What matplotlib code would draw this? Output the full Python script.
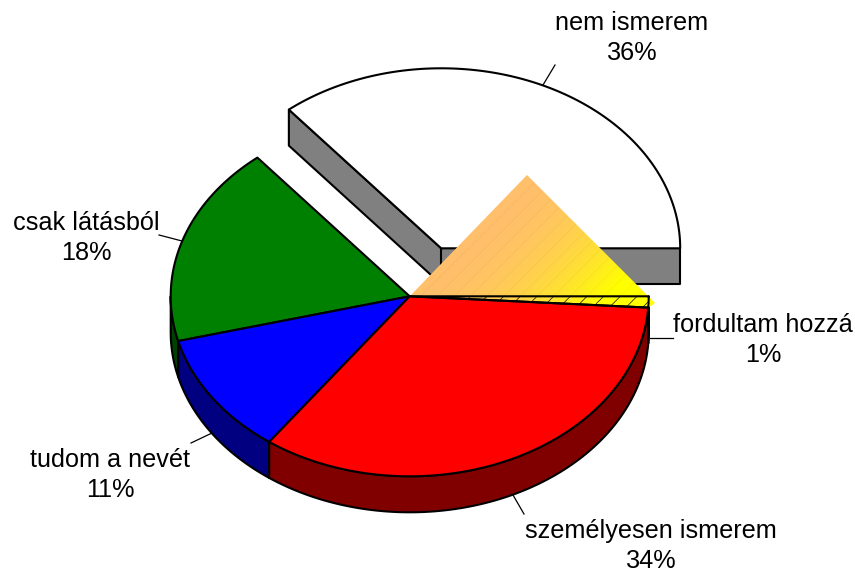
import numpy as np
import matplotlib
matplotlib.use("Agg")
import matplotlib.pyplot as plt
from matplotlib.patches import Polygon

plt.rcParams['font.family'] = ['Liberation Sans', 'DejaVu Sans']
plt.rcParams['hatch.linewidth'] = 0.45

#Data, counter clockwise starting from the exploded slice
labels = ["nem ismerem", "csak látásból", "tudom a nevét", "személyesen ismerem", "fordultam hozzá"]
values = [36, 18, 11, 34, 1]
tops = ["#FFFFFF", "#008000", "#0000FF", "#FF0000", "#FFFF00"]
sides = ["#808080", "#004000", "#000080", "#800000", "#808000"]

#Pie geometry in pixels
cx, cy = 409.7, 296.3
rx, ry = 239, 180
depth = 36
explode = (31.5, -48)

#Label text centre and leader line
label_pos = [(632, 38), (86, 238), (110, 475), (651, 546), (763, 340)]
leaders = [((543, 85), (555, 65)), ((159, 235), (182, 241)), ((191, 443), (212, 433)),
           ((513, 495), (524, 514)), ((650, 338), (673, 338))]

def rim(a0, a1, x0=cx, y0=cy, dz=0):
    t = np.radians(np.linspace(a0, a1, 120))
    return np.column_stack([x0 + rx * np.cos(t), y0 - ry * np.sin(t) + dz])

fig = plt.figure(figsize=(8.55, 5.72), dpi=100)
ax = fig.add_axes([0, 0, 1, 1])

edges = np.cumsum([0] + values) * 3.6
line = dict(edgecolor="black", linewidth=1.5, joinstyle="round")

#Exploded slice: two cut faces, then the top
x0, y0 = cx + explode[0], cy + explode[1]
a0, a1 = edges[0], edges[1]
for a in (a1, a0):
    p = rim(a, a, x0, y0)[0]
    face = [(x0, y0), p, (p[0], p[1] + depth), (x0, y0 + depth)]
    ax.add_patch(Polygon(face, facecolor=sides[0], zorder=2, **line))
ax.add_patch(Polygon(np.vstack([[(x0, y0)], rim(a0, a1, x0, y0)]), facecolor=tops[0], zorder=3, **line))

#Rim faces of the other slices, only the front half shows
for i in range(1, 5):
    a, b = max(edges[i], 180), edges[i + 1]
    if b <= a:
        continue
    poly = np.vstack([rim(a, b), rim(b, a, dz=depth)])
    ax.add_patch(Polygon(poly, facecolor=sides[i], zorder=4, **line))

#Stray gradient triangle behind the small slice
tri = [(cx, cy), (527, 175), (655, 303), tuple(rim(edges[4], edges[4])[0])]
gx, gy = np.meshgrid(np.linspace(0, 1, 256), np.linspace(0, 1, 256))
u = np.clip((gx * 246 + gy * 133 - 130) / 190, 0, 1)[..., None] ** 1.8
grad = np.array([1, 0.75, 0.42]) * (1 - u) + np.array([1, 1, 0]) * u
im = ax.imshow(grad, extent=(409, 655, 308, 175), aspect="auto", zorder=5, interpolation="bilinear")
im.set_clip_path(Polygon(tri, transform=ax.transData))
ax.add_patch(Polygon(tri, facecolor="none", edgecolor=(0, 0, 0, 0.05), linewidth=0, hatch="//", zorder=5.1))

#Tops
for i in range(1, 5):
    poly = np.vstack([[(cx, cy)], rim(edges[i], edges[i + 1])])
    if i == 4:
        ax.add_patch(Polygon(poly, facecolor="none", hatch="//", zorder=6, **line))
    else:
        ax.add_patch(Polygon(poly, facecolor=tops[i], zorder=6, **line))

#Labels
for name, v, pos, lead in zip(labels, values, label_pos, leaders):
    ax.text(pos[0], pos[1], f"{name}\n{v}%", ha="center", va="center", fontsize=18.2,
            linespacing=1.3, color="black", zorder=8)
    ax.plot([lead[0][0], lead[1][0]], [lead[0][1], lead[1][1]], color="black", lw=0.9, zorder=1)

ax.set_xlim(0, 855)
ax.set_ylim(572, 0)
ax.axis("off")
fig.savefig("out.png", dpi=100)
